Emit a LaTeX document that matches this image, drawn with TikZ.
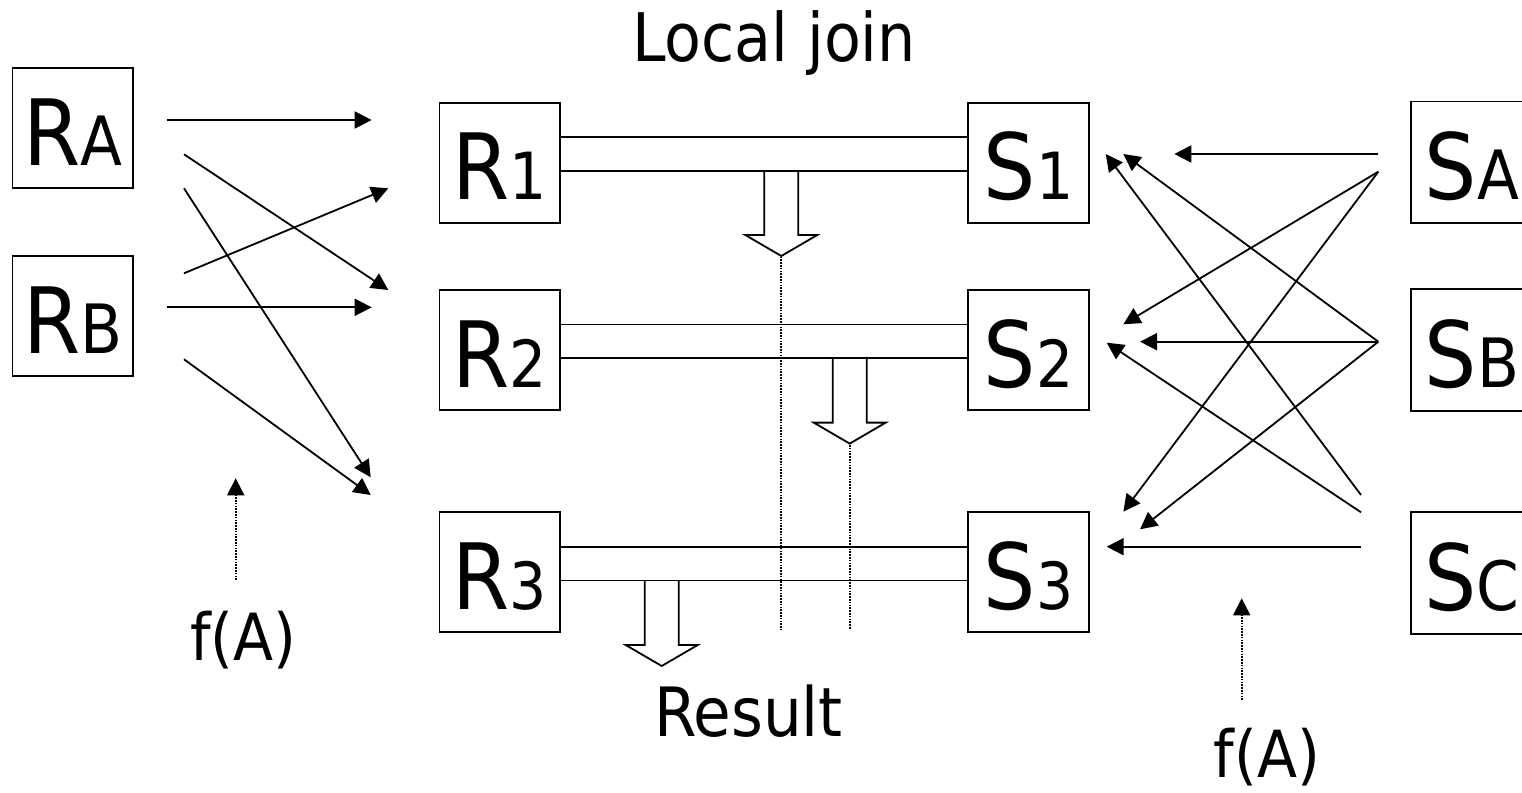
\documentclass[tikz,border=0pt]{standalone}
\usepackage{fontspec}
\setmainfont{DejaVu Sans Condensed}
\usetikzlibrary{arrows.meta}
\newcommand\sublet[1]{{\fontsize{68}{68}\selectfont #1}}
\newcommand\subdig[1]{{\fontsize{65}{65}\selectfont #1}}
\begin{document}
\begin{tikzpicture}[x=1pt,y=-1pt,line width=1.8pt,
  relbox/.style={draw,line width=1.8pt,minimum width=120.5pt,minimum height=120pt,inner sep=0pt,
    text height=74pt,text depth=0pt,font=\fontsize{91.5}{91.5}\selectfont},
  edgebox/.style={relbox,draw=none},
  arr/.style={-{Triangle[length=17pt,width=17pt]},line width=1.8pt},
  dotline/.style={line width=1.8pt,dash pattern=on 1.6pt off 1.2pt},
  bigtext/.style={anchor=base,inner sep=0pt,font=\fontsize{67}{67}\selectfont},
  blockarrow/.style={line width=1.8pt,line join=miter}]
\useasboundingbox (0,0) rectangle (1522,792);

% boxes
\node[relbox] (RA) at (72.8,128.3) {R\sublet{A}};
\node[relbox] (RB) at (72.8,316) {R\sublet{B}};
\node[relbox] (R1) at (499.7,162.7) {R\subdig{1}};
\node[relbox] (R2) at (499.7,350) {R\subdig{2}};
\node[relbox] (R3) at (499.7,572.2) {R\subdig{3}};
\node[relbox] (S1) at (1028.5,162.7) {S\subdig{1}};
\node[relbox] (S2) at (1028.5,350) {S\subdig{2}};
\node[relbox] (S3) at (1028.5,572.2) {S\subdig{3}};
% boxes cut by the right edge of the picture (open on the right)
\node[edgebox] (SA) at (1472,162.3) {S\sublet{A}};
\node[edgebox] (SB) at (1472,350) {S\sublet{B}};
\node[edgebox] (SC) at (1472,573) {S\sublet{C}};
\foreach \n in {SA,SB,SC}{
  \draw (\n.north west -| 1524,0) -- (\n.north west) -- (\n.south west) -- (\n.south west -| 1524,0);
}

% texts
\node[bigtext] (title) at (774,61.7) {Local join};
\node[bigtext,font=\fontsize{68}{68}\selectfont] (result) at (748.5,736.7) {Result};
\node[bigtext,font=\fontsize{65}{65}\selectfont] (fl) at (243.3,660) {f(A)};
\node[bigtext,font=\fontsize{65}{65}\selectfont] (fr) at (1267,777) {f(A)};

% join bars
\foreach \i in {1,2,3}{
  \draw ([yshift=25.5pt]R\i.east) -- ([yshift=25.5pt]S\i.west);
  \draw ([yshift=-8.2pt]R\i.east) -- ([yshift=-8.2pt]S\i.west);
}

% block arrows (result)
\coordinate (b1) at (781.3,170.7);
\coordinate (b2) at (849.7,358.3);
\coordinate (b3) at (661.7,580.7);
\foreach \b in {b1,b2,b3}{
  \draw[blockarrow] (\b) ++(-17,0) -- ++(0,64.3) -- ++(-19,0) -- ++(36,21) -- ++(36,-21) -- ++(-19,0) -- ++(0,-64.3);
}
% dotted result lines
\coordinate (d1a) at (781.3,256.5); \coordinate (d1b) at (781.3,629.3);
\coordinate (d2a) at (849.7,445);   \coordinate (d2b) at (849.7,629.3);
\draw[dotline] (d1a) -- (d1b);
\draw[dotline] (d2a) -- (d2b);

% left distribution arrows
\coordinate (ra1) at (166.7,120);   \coordinate (t11) at (371.7,120);
\coordinate (ra2) at (184,154.3);   \coordinate (t12) at (388.3,290);
\coordinate (ra3) at (184,188.3);   \coordinate (t13) at (370.7,477.3);
\coordinate (rb1) at (184,273.3);   \coordinate (t21) at (388.3,188.3);
\coordinate (rb2) at (166.7,307.3); \coordinate (t22) at (371.7,307.3);
\coordinate (rb3) at (184,359.3);   \coordinate (t23) at (370.7,495);
\draw[arr] (ra1) -- (t11);
\draw[arr] (ra2) -- (t12);
\draw[arr] (ra3) -- (t13);
\draw[arr] (rb1) -- (t21);
\draw[arr] (rb2) -- (t22);
\draw[arr] (rb3) -- (t23);

% right distribution arrows
\coordinate (sa1) at (1378.3,154);   \coordinate (u11) at (1174.3,154);
\coordinate (sa2) at (1378.3,171.7); \coordinate (u12) at (1123.3,324.3);
                                     \coordinate (u13) at (1123.3,511.7);
\coordinate (sb) at (1378.3,341.7);  \coordinate (u21) at (1123.3,154);
                                     \coordinate (u22) at (1140,341.7);
                                     \coordinate (u23) at (1140,529.3);
\coordinate (sc1) at (1361,495);     \coordinate (u31) at (1105.7,154);
\coordinate (sc2) at (1361,512.3);   \coordinate (u32) at (1106.7,342.7);
\coordinate (sc3) at (1361,546.7);   \coordinate (u33) at (1106.7,546.7);
\draw[arr] (sa1) -- (u11);
\draw[arr] (sa2) -- (u12);
\draw[arr] (sa2) -- (u13);
\draw[arr] (sb) -- (u21);
\draw[arr] (sb) -- (u22);
\draw[arr] (sb) -- (u23);
\draw[arr] (sc1) -- (u31);
\draw[arr] (sc2) -- (u32);
\draw[arr] (sc3) -- (u33);

% f(A) dotted arrows
\coordinate (fl0) at (235.7,580); \coordinate (fl1) at (235.7,478.3);
\coordinate (fr0) at (1241.7,700); \coordinate (fr1) at (1241.7,598.3);
\draw[dotline,-{Triangle[length=17pt,width=17pt]}] (fl0) -- (fl1);
\draw[dotline,-{Triangle[length=17pt,width=17pt]}] (fr0) -- (fr1);
\end{tikzpicture}
\end{document}
